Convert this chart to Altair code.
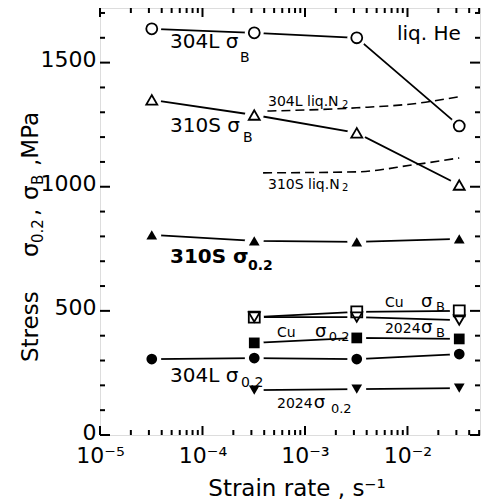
import altair as alt
import pandas as pd

# ---------------- data ----------------
rate4 = [3.2e-5, 3.2e-4, 3.2e-3, 3.2e-2]
rate3 = [3.2e-4, 3.2e-3, 3.2e-2]

s304L_B = [1636, 1620, 1600, 1245]
s310S_B = [1350, 1289, 1217, 1007]
s310S_02 = [806, 782, 778, 790]
s304L_02 = [306, 310, 306, 326]
cu_B = [475, 496, 500]
a2024_B = [475, 475, 463]
cu_02 = [371, 391, 387]
a2024_02 = [181, 185, 189]

n2_304L_rate = [4.3e-4, 3.2e-3, 1.3e-2, 3.1e-2]
n2_304L = [1305, 1318, 1337, 1362]
n2_310S_rate = [3.9e-4, 3.2e-3, 1.13e-2, 3.2e-2]
n2_310S = [1056, 1060, 1088, 1116]

x_major = [1e-5, 1e-4, 1e-3, 1e-2]
x_minor = [k * 10.0 ** e for e in (-5, -4, -3, -2) for k in range(2, 10) if k * 10.0 ** e <= 0.051]
y_major = [0, 500, 1000, 1500]
y_minor = [v for v in range(100, 1720, 100) if v % 500 != 0]

# series: name, rates, values, shape, filled
series = [
    ("304L sB", rate4, s304L_B, "circle", False),
    ("310S sB", rate4, s310S_B, "triangle-up", False),
    ("310S s02", rate4, s310S_02, "triangle-up", True),
    ("304L s02", rate4, s304L_02, "circle", True),
    ("Cu sB", rate3, cu_B, "square", False),
    ("2024 sB", rate3, a2024_B, "triangle-down", False),
    ("Cu s02", rate3, cu_02, "square", True),
    ("2024 s02", rate3, a2024_02, "triangle-down", True),
]
rows = []
for name, xs_, ys_, shp, filled in series:
    for xv, yv in zip(xs_, ys_):
        rows.append({"series": name, "rate": xv, "stress": yv, "shape": shp, "filled": filled})
df = pd.DataFrame(rows)

drows = []
for name, xs_, ys_ in [("304L N2", n2_304L_rate, n2_304L), ("310S N2", n2_310S_rate, n2_310S)]:
    for xv, yv in zip(xs_, ys_):
        drows.append({"series": name, "rate": xv, "stress": yv})
ddf = pd.DataFrame(drows)

# annotations: text, rate, stress, font size
ann = [
    ("304L σ", 4.82e-5, 1559, 20), ("B", 2.32e-4, 1502, 14),
    ("310S σ", 4.82e-5, 1220, 20), ("B", 2.48e-4, 1180, 14),
    ("304L liq.N", 4.36e-4, 1325, 14), ("2", 2.30e-3, 1317, 10),
    ("310S liq.N", 4.36e-4, 991, 14), ("2", 2.30e-3, 983, 10),
    ("Cu", 6.03e-3, 515, 14), ("σ", 1.355e-2, 515, 18), ("B", 1.90e-2, 499, 13),
    ("Cu", 5.33e-4, 395, 14), ("σ", 1.25e-3, 395, 18), ("0.2", 1.71e-3, 379, 13),
    ("2024", 6.03e-3, 411, 14), ("σ", 1.355e-2, 411, 18), ("B", 1.90e-2, 395, 13),
    ("304L σ", 4.82e-5, 213, 20), ("0.2", 2.38e-4, 193, 14),
    ("2024", 5.33e-4, 109, 14), ("σ", 1.22e-3, 109, 18), ("0.2", 1.79e-3, 89, 13),
    ("liq. He", 7.9e-3, 1591, 20),
]
ann_bold = [("310S σ", 4.82e-5, 693, 20), ("0.2", 2.78e-4, 665, 14)]
adf = pd.DataFrame(ann, columns=["text", "rate", "stress", "size"])
abdf = pd.DataFrame(ann_bold, columns=["text", "rate", "stress", "size"])

FONT = "DejaVu Sans"
W, H = 380, 427

xs = alt.Scale(type="log", domain=[1e-5, 0.051], nice=False)
ys = alt.Scale(domain=[0, 1720], nice=False, zero=True)
xaxis = alt.Axis(values=x_major, ticks=False, domain=False, grid=False, title=None,
                 labelFont=FONT, labelFontSize=22, labelColor="black", labelPadding=10,
                 labelFlush=False,
                 labelExpr="'10' + (datum.value < 5e-5 ? '⁻⁵' : datum.value < 5e-4 ? '⁻⁴' : datum.value < 5e-3 ? '⁻³' : '⁻²')")
yaxis = alt.Axis(values=y_major, ticks=False, domain=False, grid=False, title=None, format="d",
                 labelFont=FONT, labelFontSize=22, labelColor="black", labelPadding=4,
                 labelOffset=-3)


def X(f):
    return alt.X(f, type="quantitative", scale=xs, axis=xaxis)


def Y(f):
    return alt.Y(f, type="quantitative", scale=ys, axis=yaxis)


layers = []

# tick marks (inward)
xmaj = pd.DataFrame({"v": x_major})
xmin = pd.DataFrame({"v": x_minor})
ymaj = pd.DataFrame({"v": y_major})
ymin = pd.DataFrame({"v": y_minor})
for d, L in [(xmaj, 9), (xmin, 5)]:
    layers.append(alt.Chart(d).mark_rule(color="black", strokeWidth=2).encode(
        x=X("v"), y=alt.value(H), y2=alt.value(H - L)))
    layers.append(alt.Chart(d).mark_rule(color="black", strokeWidth=2).encode(
        x=X("v"), y=alt.value(0), y2=alt.value(L)))
for d, L in [(ymaj, 10), (ymin, 5)]:
    layers.append(alt.Chart(d).mark_rule(color="black", strokeWidth=2).encode(
        y=Y("v"), x=alt.value(0), x2=alt.value(L)))
    layers.append(alt.Chart(d).mark_rule(color="black", strokeWidth=2).encode(
        y=Y("v"), x=alt.value(W), x2=alt.value(W - L)))

# solid lines
layers.append(alt.Chart(df).mark_line(color="black", strokeWidth=1.8).encode(
    x=X("rate"), y=Y("stress"), detail="series:N"))
# dashed liq N2 lines
layers.append(alt.Chart(ddf).mark_line(color="black", strokeWidth=1.6, strokeDash=[9, 5],
                                       interpolate="monotone").encode(
    x=X("rate"), y=Y("stress"), detail="series:N"))
# white halos to create gaps around markers
layers.append(alt.Chart(df).mark_point(filled=True, color="white", opacity=1, shape="circle",
                                       size=360).encode(x=X("rate"), y=Y("stress")))

shape_scale = alt.Scale(domain=["circle", "triangle-up", "triangle-down", "square"],
                        range=["circle", "triangle-up", "triangle-down", "square"])
# open markers
layers.append(alt.Chart(df[~df["filled"]]).mark_point(filled=False, color="black", strokeWidth=1.8,
                                                      size=120, opacity=1).encode(
    x=X("rate"), y=Y("stress"), shape=alt.Shape("shape:N", scale=shape_scale, legend=None)))
# filled markers
layers.append(alt.Chart(df[df["filled"]]).mark_point(filled=True, color="black", size=115,
                                                     opacity=1).encode(
    x=X("rate"), y=Y("stress"), shape=alt.Shape("shape:N", scale=shape_scale, legend=None)))

# annotations
layers.append(alt.Chart(adf).mark_text(align="left", baseline="alphabetic", font=FONT,
                                       color="black").encode(
    x=X("rate"), y=Y("stress"), text="text:N", size=alt.Size("size:Q", scale=None, legend=None)))
layers.append(alt.Chart(abdf).mark_text(align="left", baseline="alphabetic", font=FONT,
                                        fontWeight="bold", color="black").encode(
    x=X("rate"), y=Y("stress"), text="text:N", size=alt.Size("size:Q", scale=None, legend=None)))

# axis titles as text pieces
one = pd.DataFrame({"a": [0]})
layers.append(alt.Chart(one).mark_text(text="Strain rate , s⁻¹", align="center", baseline="alphabetic",
                                       font=FONT, fontSize=23, color="black").encode(
    x=alt.value(197), y=alt.value(488)))
ytitle = [
    ("Stress", -62, 354, 23),
    ("σ", -62, 249, 23),
    ("0.2", -57, 235, 15),
    (",", -62, 208, 23),
    ("σ", -62, 192, 23),
    ("B", -57, 177, 15),
    (",MPa", -62, 158, 23),
]
for t, px, py, fs in ytitle:
    layers.append(alt.Chart(one).mark_text(text=t, align="left", baseline="alphabetic", angle=270,
                                           font=FONT, fontSize=fs, color="black").encode(
        x=alt.value(px), y=alt.value(py)))

chart = alt.layer(*layers).properties(
    width=W, height=H,
    autosize=alt.AutoSizeParams(type="none"),
    padding={"left": 100, "top": 8, "right": 4, "bottom": 69},
).configure_view(stroke="black", strokeWidth=2.5).configure(background="white")

chart.save("out.html", embed_options={"renderer": "svg", "actions": False})
